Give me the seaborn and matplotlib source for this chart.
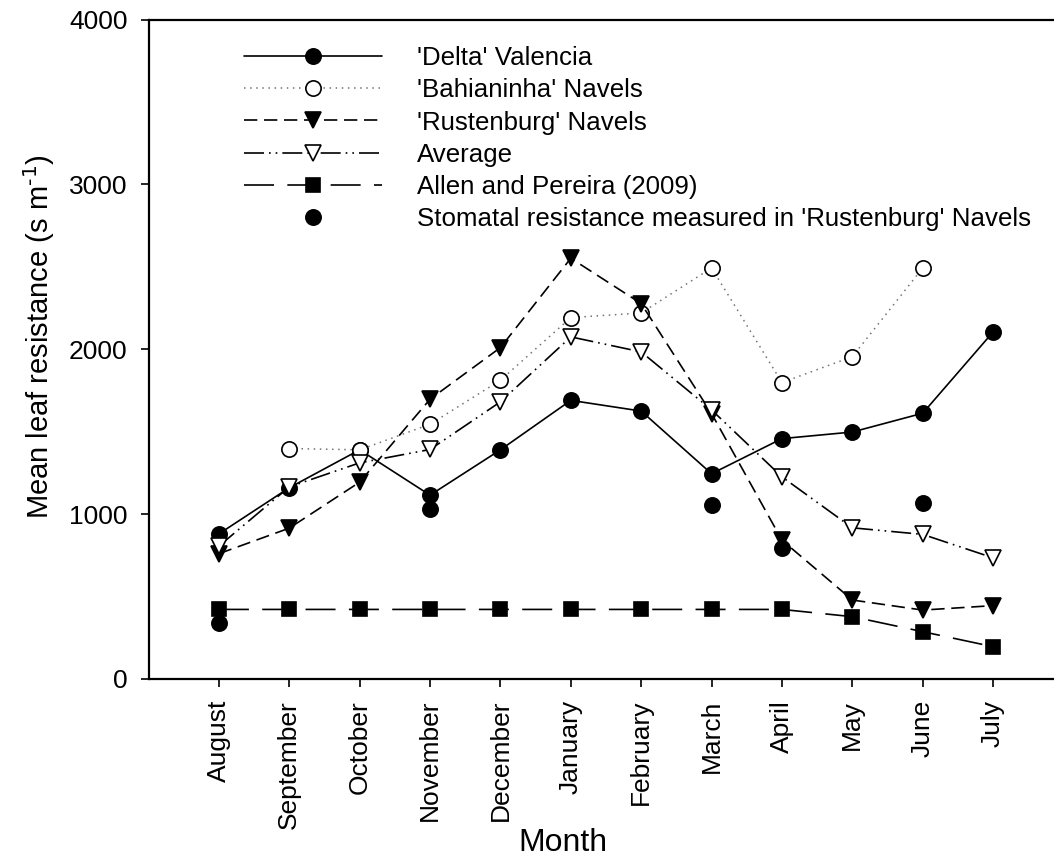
import numpy as np
import pandas as pd
import matplotlib
matplotlib.use("Agg")
import matplotlib.pyplot as plt
import seaborn as sns

months = ["August", "September", "October", "November", "December", "January",
          "February", "March", "April", "May", "June", "July"]
delta = [880, 1160, 1390, 1115, 1390, 1690, 1625, 1245, 1458, 1498, 1612, 2105]
bahia_months = months[1:11]
bahia = [1398, 1390, 1545, 1812, 2192, 2220, 2493, 1798, 1955, 2493]
rusten = [760, 915, 1194, 1697, 2010, 2552, 2277, 1610, 842, 479, 418, 445]
average = [806, 1165, 1311, 1392, 1681, 2075, 1984, 1632, 1226, 917, 877, 735]
allen = [422, 422, 422, 422, 422, 422, 422, 422, 422, 378, 287, 196]
stomatal_months = ["August", "November", "March", "April", "June"]
stomatal = [337, 1034, 1055, 792, 1069]
labels = ["'Delta' Valencia", "'Bahianinha' Navels", "'Rustenburg' Navels",
          "Average", "Allen and Pereira (2009)",
          "Stomatal resistance measured in 'Rustenburg' Navels"]

sns.set_theme(style="ticks")
plt.rcParams['font.family'] = ['Liberation Sans', 'DejaVu Sans']
plt.rcParams['mathtext.default'] = 'regular'
for k in ["text.color", "axes.labelcolor", "xtick.color", "ytick.color", "axes.edgecolor"]:
    plt.rcParams[k] = "black"

pos = {m: i for i, m in enumerate(months)}

fig = plt.figure(figsize=(10.54, 8.58), dpi=100)
W, H = 1054, 858
ax = fig.add_axes([148.5 / W, (H - 679) / H, (1063.5 - 148.5) / W, (679 - 19.5) / H])

def xs(ms):
    return [pos[m] for m in ms]

common = dict(ax=ax, errorbar=None, sort=False, markeredgecolor="black",
              markeredgewidth=1.2, legend=False)

sns.lineplot(x=xs(months), y=delta, marker="o", markersize=11, linewidth=1.2, color="black",
             linestyle="-", markerfacecolor="black", **common)
sns.lineplot(x=xs(bahia_months), y=bahia, marker="o", markersize=11, linewidth=1.1, color="0.45",
             linestyle=(0, (1, 3)), markerfacecolor="white", **common)
sns.lineplot(x=xs(months), y=rusten, marker="v", markersize=12, linewidth=1.2, color="black",
             linestyle=(0, (8, 4)), markerfacecolor="black", **common)
sns.lineplot(x=xs(months), y=average, marker="v", markersize=12, linewidth=1.2, color="black",
             linestyle=(0, (12, 3, 1, 3, 1, 3)), markerfacecolor="white", **common)
sns.lineplot(x=xs(months), y=allen, marker="s", markersize=10, linewidth=1.2, color="black",
             linestyle=(0, (18, 8)), markerfacecolor="black", **common)
sns.lineplot(x=xs(stomatal_months), y=stomatal, marker="o", markersize=11, color="black",
             linestyle="none", markerfacecolor="black", **common)

handles = ax.get_lines()[:6]
ax.legend(handles, labels, loc="upper left", bbox_to_anchor=(244 / W, (H - 46) / H),
          bbox_transform=fig.transFigure, frameon=False, fontsize=18.6,
          handlelength=5.35, handletextpad=1.35, labelspacing=0.32, borderpad=0,
          borderaxespad=0)

ax.set_xlim(-1, 12)
ax.set_ylim(0, 4000)
ax.set_xticks(range(len(months)))
ax.set_xticklabels(months, rotation=90, fontsize=19)
ax.set_yticks([0, 1000, 2000, 3000, 4000])
ax.tick_params(axis="y", labelsize=19, direction="out", length=6, width=1.2, pad=9, colors="black")
ax.tick_params(axis="x", direction="out", length=6, width=1.2, pad=9, colors="black")
ax.tick_params(top=False, right=False)
for s in ["left", "bottom", "top"]:
    ax.spines[s].set_visible(True)
    ax.spines[s].set_linewidth(1.6)
    ax.spines[s].set_color("black")
ax.spines["right"].set_visible(False)

ax.set_xlabel("Month", fontsize=23)
ax.set_ylabel(r"Mean leaf resistance (s m$^{\text{-1}}$)", fontsize=21)
ax.xaxis.set_label_coords((563 - 148.5) / (1063.5 - 148.5), -0.226)
ax.yaxis.set_label_coords((57 - 148.5) / (1063.5 - 148.5), (679 - 337) / (679 - 19.5))

fig.savefig("out.png", dpi=100)
